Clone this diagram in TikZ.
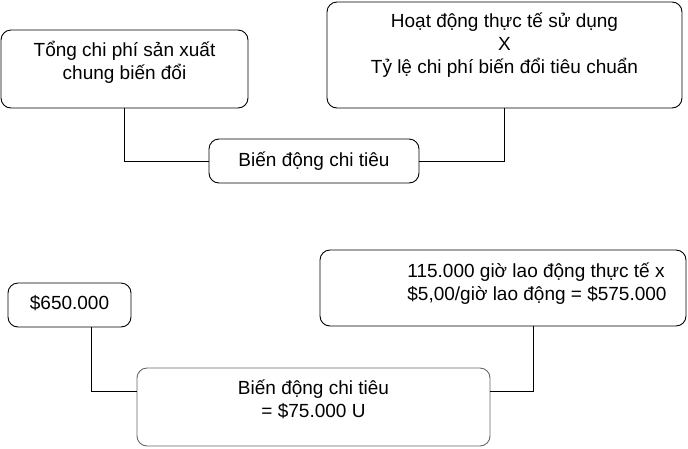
\documentclass[tikz,border=0pt]{standalone}
\usepackage{fontspec}
\setmainfont{Liberation Sans}
\begin{document}
\begin{tikzpicture}[x=1pt, y=-1pt,
        box/.style={draw, line width=0.9pt, rounded corners=10pt, align=center, inner sep=0pt,
            font=\fontsize{19}{23}\selectfont},
        link/.style={draw, line width=0.9pt}]
        \useasboundingbox (0, 0) rectangle (688, 448);

        % budget formula
        \node[box, minimum width=247pt, minimum height=78pt] (total) at (124.5, 69)
            {Tổng chi phí sản xuất\\chung biến đổi\\[-6pt]\mbox{}};
        \node[box, minimum width=355pt, minimum height=106pt] (actual) at (504.5, 55)
            {Hoạt động thực tế sử dụng\\X\\Tỷ lệ chi phí biến đổi tiêu chuẩn\\[1pt]\mbox{}};
        \node[box, minimum width=210pt, minimum height=44pt] (spend) at (314, 161) {Biến động chi tiêu};

        \draw[link] (total.south) |- (spend.west);
        \draw[link] (actual.south) |- (spend.east);

        % with the numbers
        \node[box, minimum width=123pt, minimum height=44pt] (paid) at (69.5, 305) {\$650.000\\[-17pt]\mbox{}};
        \node[box, align=left, minimum width=366pt, minimum height=76pt] (hours) at (503, 288)
            {\hspace*{68pt}115.000 giờ lao động thực tế x\\\hspace*{68pt}\$5,00/giờ lao động = \$575.000\\[-10pt]\mbox{}};
        \node[box, draw=black!60, minimum width=353pt, minimum height=78pt] (result) at (313.5, 407)
            {Biến động chi tiêu\\= \$75.000 U\\[-6pt]\mbox{}};

        \draw[link] ([xshift=22pt]paid.south) |- ([yshift=16pt]result.west);
        \draw[link] ([xshift=30pt]hours.south) |- ([yshift=16pt]result.east);
    \end{tikzpicture}
\end{document}
